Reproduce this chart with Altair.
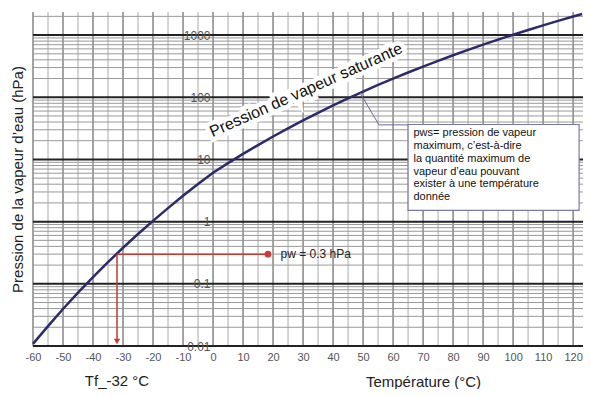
import altair as alt
import pandas as pd

# Saturation vapour pressure curve
temp_c = [-60, -55, -50, -45, -40, -35, -30, -25, -20, -15, -10, -5, 0, 5, 10, 15, 20, 25, 30,
          35, 40, 45, 50, 55, 60, 65, 70, 75, 80, 85, 90, 95, 100, 105, 110, 115, 120, 123]
pws_hpa = [0.0108, 0.0209, 0.0394, 0.072, 0.128, 0.223, 0.380, 0.632, 1.03, 1.65, 2.60, 4.02,
           6.11, 8.72, 12.3, 17.0, 23.4, 31.7, 42.5, 56.3, 73.8, 95.9, 123.5, 157.6, 199.4,
           250.3, 311.8, 385.8, 473.9, 578.3, 701.4, 845.6, 1013, 1208, 1433, 1691, 1985, 2180]

x_ticks = list(range(-60, 121, 10))
x_minor = list(range(-55, 121, 10))
y_major = [0.01, 0.1, 1, 10, 100, 1000]
y_minor = [k * d for d in [0.01, 0.1, 1, 10, 100] for k in range(2, 10)] + [2000]

# pw example
pw_temp = -32
pw_value = 0.3
pw_end_temp = 18.3
pw_label = "pw = 0.3 hPa"
tf_label = "Tf_-32 °C"

curve_label = "Pression de vapeur saturante"
legend_lines = ["pws= pression de vapeur", "maximum, c\u2019est-à-dire",
                "la quantité maximum de", "vapeur d\u2019eau pouvant",
                "exister à une température", "donnée"]

XD = [-60, 123.3]
YD = [0.01, 2350]
xs = alt.Scale(domain=XD, nice=False, zero=False)
ys = alt.Scale(type="log", domain=YD, nice=False)

W, H = 550, 334
FONT = "Liberation Sans"

x_axis = alt.Axis(values=x_ticks, labelExpr="datum.value + ''", title="Température (°C)",
                  grid=False, domain=False,
                  ticks=False, labelFontSize=11, labelColor="#555", labelPadding=5,
                  labelOverlap=False, labelFlush=False,
                  labelFont=FONT, titleFont=FONT, titleFontSize=15, titleFontWeight="normal",
                  titleColor="#222", titleX=390, titleY=35, titleBaseline="middle")
y_axis = alt.Axis(values=y_major, labelExpr="datum.value + ''", offset=-180, domain=False, ticks=False,
                  grid=False, labelFontSize=12, labelColor="#555", labelFont=FONT,
                  labelPadding=3, zindex=1, labelOverlap=False, labelFlush=False,
                  title="Pression de la vapeur d\u2019eau (hPa)", titleFont=FONT,
                  titleFontSize=15, titleFontWeight="normal", titleColor="#222",
                  titleX=-196, titleY=167, titleAngle=270, titleAlign="center",
                  titleBaseline="middle")


def X(f="x"):
    return alt.X(f"{f}:Q", scale=xs, axis=x_axis)


def Y(f="y"):
    return alt.Y(f"{f}:Q", scale=ys, axis=y_axis)


vgrid_minor = alt.Chart(pd.DataFrame({"x": x_minor})).mark_rule(color="#aaa", strokeWidth=1).encode(x=X())
vgrid_major = alt.Chart(pd.DataFrame({"x": x_ticks})).mark_rule(color="#666", strokeWidth=1.2).encode(x=X())
hgrid_minor = alt.Chart(pd.DataFrame({"y": y_minor})).mark_rule(color="#999", strokeWidth=1).encode(y=Y())
hgrid_major = alt.Chart(pd.DataFrame({"y": y_major})).mark_rule(color="#222", strokeWidth=2).encode(y=Y())

curve_df = pd.DataFrame({"x": temp_c, "y": pws_hpa})
curve = alt.Chart(curve_df).mark_line(color="#2b2a6b", strokeWidth=2.5).encode(x=X(), y=Y())

# red pw annotation
red = "#c4392f"
pw_h = alt.Chart(pd.DataFrame({"x": [pw_temp], "x2": [pw_end_temp], "y": [pw_value]})).mark_rule(
    color=red, strokeWidth=1.5).encode(x=X(), x2="x2:Q", y=Y())
pw_v = alt.Chart(pd.DataFrame({"x": [pw_temp], "y": [pw_value], "y2": [0.0115]})).mark_rule(
    color=red, strokeWidth=1.5).encode(x=X(), y=Y(), y2="y2:Q")
pw_arrow = alt.Chart(pd.DataFrame({"x": [pw_temp], "y": [0.0118]})).mark_point(
    shape="triangle-down", filled=True, color=red, size=40, opacity=1).encode(x=X(), y=Y())
pw_dot = alt.Chart(pd.DataFrame({"x": [pw_end_temp], "y": [pw_value]})).mark_point(
    shape="circle", filled=True, color="#d23a30", size=45, opacity=1).encode(x=X(), y=Y())
pw_text = alt.Chart(pd.DataFrame({"x": [22.5], "y": [pw_value], "t": [pw_label]})).mark_text(
    align="left", baseline="middle", fontSize=12, font=FONT, color="#222").encode(
    x=X(), y=Y(), text="t:N")

tf_text = alt.Chart(pd.DataFrame({"x": [pw_temp], "t": [tf_label]})).mark_text(
    align="center", baseline="middle", fontSize=15, font=FONT, color="#222").encode(
    x=X(), y=alt.value(H + 35), text="t:N")

# curve label with white halo
cl_df = pd.DataFrame({"x": [31], "y": [130], "t": [curve_label]})
cl_halo = alt.Chart(cl_df).mark_text(angle=336, fontSize=16, font=FONT, color="white",
                                     stroke="white", strokeWidth=9, align="center",
                                     baseline="middle").encode(x=X(), y=Y(), text="t:N")
cl_text = alt.Chart(cl_df).mark_text(angle=336, fontSize=16, font=FONT, color="#111",
                                     align="center", baseline="middle").encode(x=X(), y=Y(), text="t:N")

# legend callout
conn_df = pd.DataFrame({"x": [49, 55.3, 65], "y": [118, 36, 36], "o": [0, 1, 2]})
conn = alt.Chart(conn_df).mark_line(color="#6a6a9c", strokeWidth=1).encode(
    x=X(), y=Y(), order="o:Q")
box = alt.Chart(pd.DataFrame({"x": [65], "x2": [122], "y": [36.5], "y2": [1.52]})).mark_rect(
    fill="white", stroke="#7a7aa8", strokeWidth=1.2).encode(x=X(), x2="x2:Q", y=Y(), y2="y2:Q")
box_text = alt.Chart(pd.DataFrame({"x": [66.8], "y": [33], "t": ["\n".join(legend_lines)]})).mark_text(
    align="left", baseline="top", fontSize=11, font=FONT, color="#111", lineBreak="\n",
    lineHeight=12.8).encode(x=X(), y=Y(), text="t:N")

chart = alt.layer(
    vgrid_minor, vgrid_major, hgrid_minor, hgrid_major, curve,
    pw_h, pw_v, pw_arrow, pw_dot, pw_text, tf_text,
    cl_halo, cl_text, conn, box, box_text
).properties(
    width=W, height=H,
    padding={"left": 25, "top": 4, "right": 5, "bottom": 43},
    autosize=alt.AutoSizeParams(type="none"),
).configure_view(stroke=None)

chart.save("out.html", embed_options={"renderer": "svg", "actions": False})
